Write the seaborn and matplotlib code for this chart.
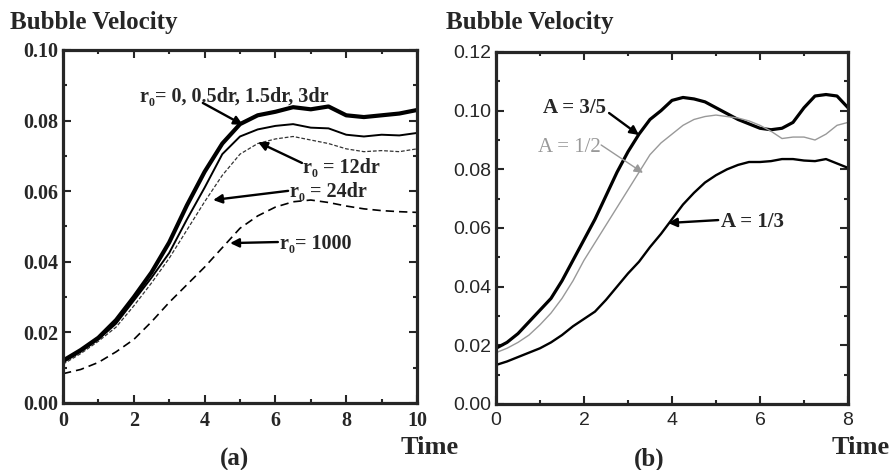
import numpy as np
import pandas as pd
import matplotlib
matplotlib.use('Agg')
import matplotlib.pyplot as plt
import seaborn as sns

# panel (a): bubble velocity for different r0
time_a = np.arange(0, 10.01, 0.5)
v_r0_small = [0.0120, 0.0150, 0.0185, 0.0235, 0.0300, 0.0370, 0.0455, 0.0560, 0.0655, 0.0735,
              0.0790, 0.0815, 0.0825, 0.0838, 0.0832, 0.0840, 0.0815, 0.0810, 0.0815, 0.0820, 0.0830]
v_r0_12dr = [0.0115, 0.0145, 0.0180, 0.0225, 0.0290, 0.0355, 0.0425, 0.0520, 0.0610, 0.0705,
             0.0755, 0.0775, 0.0785, 0.0790, 0.0780, 0.0778, 0.0760, 0.0755, 0.0760, 0.0758, 0.0765]
v_r0_24dr = [0.0110, 0.0140, 0.0175, 0.0215, 0.0275, 0.0340, 0.0410, 0.0490, 0.0570, 0.0645,
             0.0705, 0.0735, 0.0748, 0.0755, 0.0745, 0.0735, 0.0720, 0.0712, 0.0715, 0.0712, 0.0720]
v_r0_1000 = [0.0083, 0.0095, 0.0115, 0.0145, 0.0180, 0.0230, 0.0285, 0.0335, 0.0385, 0.0440,
             0.0495, 0.0530, 0.0555, 0.0570, 0.0575, 0.0568, 0.0558, 0.0550, 0.0545, 0.0542, 0.0540]

# panel (b): bubble velocity for different Atwood numbers
time_b = np.arange(0, 8.01, 0.25)
v_a35 = [0.0190, 0.0210, 0.0240, 0.0280, 0.0320, 0.0360, 0.0420, 0.0490, 0.0560, 0.0630, 0.0710,
         0.0790, 0.0860, 0.0920, 0.0970, 0.1000, 0.1035, 0.1045, 0.1040, 0.1030, 0.1010, 0.0990,
         0.0970, 0.0955, 0.0940, 0.0935, 0.0940, 0.0960, 0.1010, 0.1050, 0.1055, 0.1050, 0.1010]
v_a12 = [0.0175, 0.0190, 0.0210, 0.0235, 0.0270, 0.0310, 0.0360, 0.0420, 0.0490, 0.0550, 0.0610,
         0.0670, 0.0730, 0.0790, 0.0850, 0.0890, 0.0920, 0.0950, 0.0970, 0.0980, 0.0985, 0.0980,
         0.0975, 0.0965, 0.0950, 0.0930, 0.0905, 0.0910, 0.0910, 0.0900, 0.0920, 0.0950, 0.0960]
v_a13 = [0.0133, 0.0145, 0.0160, 0.0175, 0.0190, 0.0210, 0.0235, 0.0265, 0.0290, 0.0315, 0.0355,
         0.0400, 0.0445, 0.0485, 0.0535, 0.0580, 0.0630, 0.0680, 0.0720, 0.0755, 0.0780, 0.0800,
         0.0815, 0.0825, 0.0825, 0.0828, 0.0835, 0.0835, 0.0830, 0.0828, 0.0835, 0.0820, 0.0805]

sns.set_theme(style='ticks')
plt.rcParams['font.family'] = ['Liberation Serif', 'DejaVu Serif']
plt.rcParams['xtick.direction'] = 'in'
plt.rcParams['ytick.direction'] = 'in'

fig = plt.figure(figsize=(8.92, 4.70), dpi=100)
ax1 = fig.add_axes([63 / 892, 67 / 470, 354 / 892, 353 / 470])
ax2 = fig.add_axes([496 / 892, 66 / 470, 352 / 892, 352 / 470])

sns.lineplot(x=time_a, y=v_r0_small, ax=ax1, color='black', lw=3.0)
sns.lineplot(x=time_a, y=v_r0_12dr, ax=ax1, color='black', lw=1.4)
sns.lineplot(x=time_a, y=v_r0_24dr, ax=ax1, color='#333333', lw=0.9, linestyle=(0, (3, 1.5)))
sns.lineplot(x=time_a, y=v_r0_1000, ax=ax1, color='black', lw=1.2, linestyle=(0, (5, 3)))

sns.lineplot(x=time_b, y=v_a35, ax=ax2, color='black', lw=2.3)
sns.lineplot(x=time_b, y=v_a12, ax=ax2, color='#999999', lw=1.0)
sns.lineplot(x=time_b, y=v_a13, ax=ax2, color='black', lw=1.7)

for ax in (ax1, ax2):
    ax.tick_params(which='both', top=True, right=True, width=1.5)
    ax.tick_params(which='major', length=6)
    ax.tick_params(which='minor', length=3)
    ax.tick_params(axis='x', which='major', pad=6)
    for s in ax.spines.values():
        s.set_linewidth(2.3)
    ax.set_xlabel('')
    ax.set_ylabel('')

ax1.set_xlim(0, 10)
ax1.set_ylim(0, 0.10)
ax1.set_xticks(np.arange(0, 10.1, 2))
ax1.set_xticks(np.arange(0, 10.1, 1), minor=True)
ax1.set_yticks(np.arange(0, 0.101, 0.02))
ax1.set_yticks(np.arange(0, 0.101, 0.01), minor=True)
ax1.set_yticklabels([f'{v:.2f}' for v in np.arange(0, 0.101, 0.02)])
for lab in ax1.get_xticklabels() + ax1.get_yticklabels():
    lab.set_fontweight('bold')
    lab.set_fontsize(14.5)

ax2.set_xlim(0, 8)
ax2.set_ylim(0, 0.12)
ax2.set_xticks(np.arange(0, 8.1, 2))
ax2.set_xticks(np.arange(0, 8.1, 1), minor=True)
ax2.set_yticks(np.arange(0, 0.121, 0.02))
ax2.set_yticks(np.arange(0, 0.121, 0.01), minor=True)
ax2.set_yticklabels([f'{v:.2f}' for v in np.arange(0, 0.121, 0.02)])
for lab in ax2.get_xticklabels() + ax2.get_yticklabels():
    lab.set_family('Liberation Sans')
    lab.set_fontsize(14)

arrow = dict(arrowstyle='-|>', color='black', lw=1.7, mutation_scale=13, shrinkA=0, shrinkB=0)
bold = dict(fontweight='bold', fontsize=14.5, va='center', ha='left')

# annotations panel (a)
ax1.text(2.18, 0.0867, 'r\u2080= 0, 0.5dr, 1.5dr, 3dr', **bold)
ax1.annotate('', xy=(5.08, 0.0788), xytext=(3.95, 0.0850), arrowprops=arrow)
ax1.text(6.78, 0.0666, 'r\u2080 = 12dr', **bold)
ax1.annotate('', xy=(5.51, 0.0739), xytext=(6.75, 0.0680), arrowprops=arrow)
ax1.text(6.41, 0.0598, 'r\u2080 = 24dr', **bold)
ax1.annotate('', xy=(4.24, 0.0575), xytext=(6.36, 0.0601), arrowprops=arrow)
ax1.text(6.13, 0.0450, 'r\u2080= 1000', **bold)
ax1.annotate('', xy=(4.72, 0.0453), xytext=(6.07, 0.0456), arrowprops=arrow)

# annotations panel (b)
ax2.text(1.07, 0.1009, 'A = 3/5', **dict(bold, fontsize=15))
ax2.annotate('', xy=(3.25, 0.0917), xytext=(2.57, 0.0992), arrowprops=arrow)
ax2.text(0.95, 0.0876, 'A = 1/2', fontsize=15, va='center', ha='left', color='#999999')
ax2.annotate('', xy=(3.34, 0.0788), xytext=(2.39, 0.0883),
             arrowprops=dict(arrow, color='#999999', lw=1.0))
ax2.text(5.11, 0.0620, 'A = 1/3', **dict(bold, fontsize=15))
ax2.annotate('', xy=(3.91, 0.0617), xytext=(5.05, 0.0627), arrowprops=arrow)

# figure-level labels
for x0 in (10, 446):
    fig.text(x0 / 892, 1 - 22 / 470, 'Bubble Velocity', fontweight='bold', fontsize=18, va='center')
fig.text(401 / 892, 1 - 448 / 470, 'Time', fontweight='bold', fontsize=19, va='center')
fig.text(890 / 892, 1 - 448 / 470, 'Time', fontweight='bold', fontsize=19, va='center', ha='right')
fig.text(235 / 892, 1 - 459 / 470, '(a)', fontweight='bold', fontsize=18, va='center', ha='center')
fig.text(649 / 892, 1 - 459 / 470, '(b)', fontweight='bold', fontsize=18, va='center', ha='center')

fig.savefig('out.png', dpi=100)
